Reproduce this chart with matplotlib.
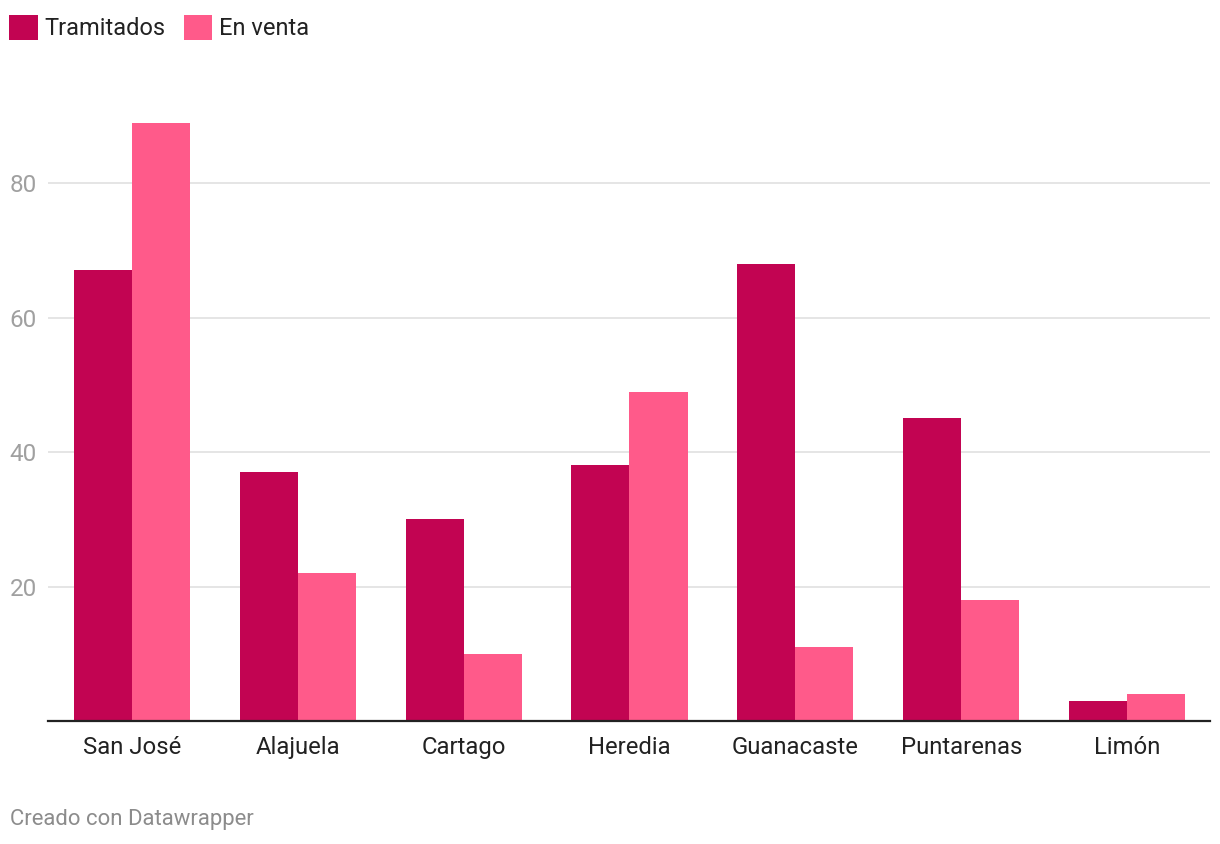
import matplotlib.pyplot as plt
import numpy as np

plt.rcParams['font.family'] = ['Roboto', 'DejaVu Sans']

provincias = ['San José', 'Alajuela', 'Cartago', 'Heredia', 'Guanacaste', 'Puntarenas', 'Limón']
tramitados = [67, 37, 30, 38, 68, 45, 3]
en_venta = [89, 22, 10, 49, 11, 18, 4]
y_ticks = [20, 40, 60, 80]

c_tram = '#c20452'
c_venta = '#ff5a8a'

fig = plt.figure(figsize=(12.2, 8.44), dpi=100)
ax = fig.add_axes([0.0393, 0.1457, 0.9525, 0.733])

x = np.arange(len(provincias))
w = 0.35
ax.bar(x - w / 2, tramitados, width=w, color=c_tram, label='Tramitados', zorder=2)
ax.bar(x + w / 2, en_venta, width=w, color=c_venta, label='En venta', zorder=2)

ax.set_xlim(-0.506, len(provincias) - 0.5)
ax.set_ylim(0, 92)
ax.set_yticks(y_ticks)
ax.set_xticks(x)
ax.set_xticklabels(provincias, fontsize=17.2, color='#222222')
ax.tick_params(axis='x', length=0, pad=11)
ax.tick_params(axis='y', length=0, labelsize=17.5, labelcolor='#a0a0a0', pad=8)
ax.grid(axis='y', color='#e3e3e3', linewidth=1.3, zorder=0)
for s in ['top', 'right', 'left']:
    ax.spines[s].set_visible(False)
ax.spines['bottom'].set_color('#222222')
ax.spines['bottom'].set_linewidth(1.6)
ax.spines['bottom'].set_zorder(3)

fig.legend(loc='upper left', bbox_to_anchor=(0.0, 0.993), ncol=2, frameon=False,
           fontsize=17.0, handlelength=1.2, handleheight=1.2, handletextpad=0.3,
           columnspacing=0.75, borderaxespad=0, labelcolor='#222222')

fig.text(0.008, 0.022, 'Creado con Datawrapper', fontsize=15.9, color='#8c8c8c')

fig.savefig('out.png', dpi=100)
